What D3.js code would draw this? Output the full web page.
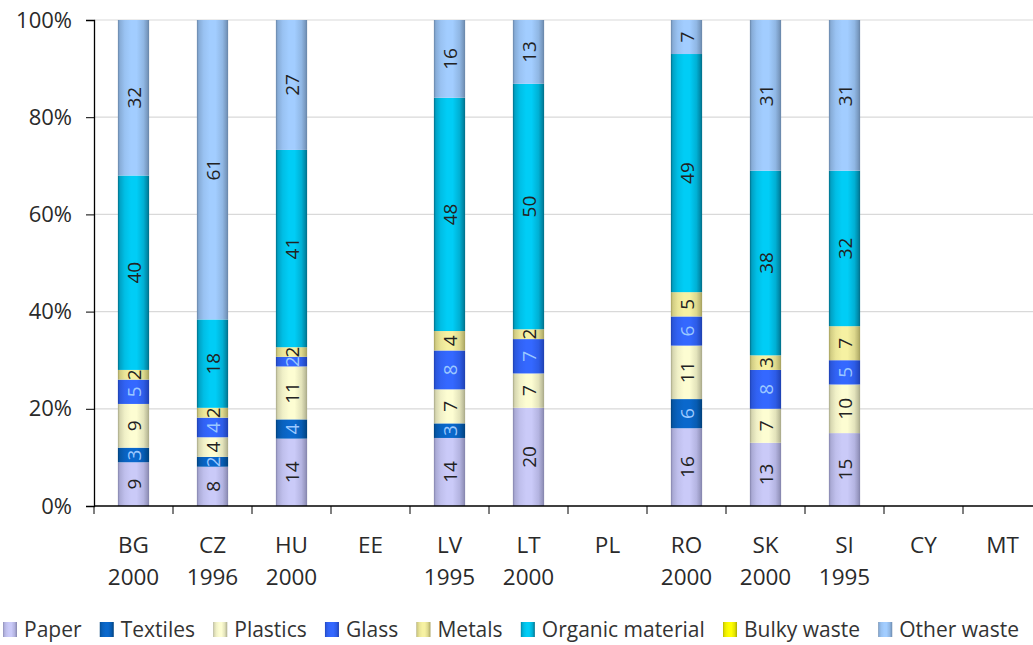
<!DOCTYPE html>
<html>
<head>
<meta charset="utf-8">
<script src="https://cdn.jsdelivr.net/npm/d3@7"></script>
<style>
  html, body { margin: 0; padding: 0; background: #fff; }
  svg { display: block; }
  .tick-y text { font-family: "Open Sans", "Noto Sans", sans-serif; font-size: 22px; fill: #2a2a2a; }
  .cat text { font-family: "Open Sans", "Noto Sans", sans-serif; font-size: 22.5px; fill: #2a2a2a; }
  .val { font-family: "Open Sans", "Noto Sans", sans-serif; font-size: 19px; }
  .legend text { font-family: "Open Sans", "Noto Sans", sans-serif; font-size: 21px; fill: #333; }
</style>
</head>
<body>
<svg id="chart" width="1033" height="645"></svg>
<script>
// Countries and survey years
const countries = ["BG", "CZ", "HU", "EE", "LV", "LT", "PL", "RO", "SK", "SI", "CY", "MT"];
const years     = ["2000", "1996", "2000", "", "1995", "2000", "", "2000", "2000", "1995", "", ""];

// Waste composition (%), one array per fraction, in country order
const paper    = [9, 8, 14, 0, 14, 20, 0, 16, 13, 15, 0, 0];
const textiles = [3, 2, 4, 0, 3, 0, 0, 6, 0, 0, 0, 0];
const plastics = [9, 4, 11, 0, 7, 7, 0, 11, 7, 10, 0, 0];
const glass    = [5, 4, 2, 0, 8, 7, 0, 6, 8, 5, 0, 0];
const metals   = [2, 2, 2, 0, 4, 2, 0, 5, 3, 7, 0, 0];
const organic  = [40, 18, 41, 0, 48, 50, 0, 49, 38, 32, 0, 0];
const bulky    = [0, 0, 0, 0, 0, 0, 0, 0, 0, 0, 0, 0];
const other    = [32, 61, 27, 0, 16, 13, 0, 7, 31, 31, 0, 0];

const fractions = ["Paper", "Textiles", "Plastics", "Glass", "Metals", "Organic material", "Bulky waste", "Other waste"];
const fractionValues = [paper, textiles, plastics, glass, metals, organic, bulky, other];

const yTicks = [0, 0.2, 0.4, 0.6, 0.8, 1];

// Cylinder shading: [edge, centre] colour per fraction
const shades = [
  ["#8282aa", "#cacaf8"],
  ["#003f78", "#0a68cc"],
  ["#a6a686", "#fdfdd2"],
  ["#1d3fae", "#3468ff"],
  ["#a39e5c", "#f6f1a2"],
  ["#006c86", "#00cdf6"],
  ["#a8a800", "#ffff00"],
  ["#6784a6", "#a2cdff"]
];
const labelColours = ["#222", "#9cc8ff", "#222", "#9cc8ff", "#222", "#222", "#222", "#222"];

const rows = countries.map((c, i) => {
  const r = { country: c, year: years[i] };
  fractions.forEach((f, k) => { r[f] = fractionValues[k][i]; });
  return r;
});

const svg = d3.select("#chart");

const x = d3.scaleBand().domain(countries).range([94, 1042]);
const y = d3.scaleLinear().domain([0, 1]).range([506, 20]);
const barW = x.bandwidth() * 0.395;

const stack = d3.stack().keys(fractions).offset(d3.stackOffsetExpand);
const series = stack(rows);

// Gradients
const defs = svg.append("defs");
fractions.forEach((f, k) => {
  const g = defs.append("linearGradient").attr("id", "grad" + k)
    .attr("x1", "0%").attr("x2", "100%").attr("y1", "0%").attr("y2", "0%");
  const [dark, light] = shades[k];
  const mid = d3.interpolateRgb(dark, light);
  [[0, dark], [0.06, mid(0.55)], [0.22, mid(0.85)], [0.42, light], [0.6, light], [0.82, mid(0.7)], [0.94, mid(0.3)], [1, dark]]
    .forEach(([o, c]) => g.append("stop").attr("offset", o).attr("stop-color", c));
});

// Gridlines
svg.append("g").selectAll("line").data(yTicks.filter(t => t > 0)).join("line")
  .attr("x1", 94).attr("x2", 1033)
  .attr("y1", d => y(d)).attr("y2", d => y(d))
  .attr("stroke", "#d9d9d9").attr("stroke-width", 1.2);

// Bars
const layers = svg.append("g").selectAll("g").data(series).join("g")
  .attr("fill", (d, k) => `url(#grad${k})`);
layers.selectAll("rect").data(d => d).join("rect")
  .attr("x", d => x(d.data.country) + (x.bandwidth() - barW) / 2)
  .attr("width", barW)
  .attr("y", d => y(d[1]))
  .attr("height", d => Math.max(0, y(d[0]) - y(d[1])));

// Value labels inside segments
series.forEach((s, k) => {
  svg.append("g").selectAll("text").data(s.filter(d => d.data[s.key] > 0)).join("text")
    .attr("class", "val")
    .attr("fill", labelColours[k])
    .attr("text-anchor", "middle")
    .attr("dominant-baseline", "central")
    .attr("transform", d => `translate(${x(d.data.country) + x.bandwidth() / 2},${(y(d[0]) + y(d[1])) / 2}) rotate(-90)`)
    .text(d => d.data[s.key]);
});

// Y axis
const yAxis = svg.append("g").attr("class", "tick-y")
  .attr("transform", "translate(94,0)")
  .call(d3.axisLeft(y).tickValues(yTicks).tickFormat(d3.format(".0%")).tickSize(8).tickPadding(14));
yAxis.select(".domain").attr("stroke", "#000").attr("stroke-width", 1.3);
yAxis.selectAll(".tick line").attr("stroke", "#000");

// X axis with category boundaries
const xAxis = svg.append("g").attr("class", "cat").attr("transform", "translate(0,506)");
xAxis.append("line").attr("x1", 94).attr("x2", 1033).attr("stroke", "#000").attr("stroke-width", 1.3);
xAxis.selectAll("line.b").data(countries).join("line").attr("class", "b")
  .attr("x1", d => x(d)).attr("x2", d => x(d)).attr("y1", 0).attr("y2", 8)
  .attr("stroke", "#000");
const catLabels = xAxis.selectAll("text").data(rows).join("text")
  .attr("text-anchor", "middle")
  .attr("x", d => x(d.country) + x.bandwidth() / 2);
catLabels.append("tspan").attr("x", d => x(d.country) + x.bandwidth() / 2).attr("y", 47).text(d => d.country);
catLabels.append("tspan").attr("x", d => x(d.country) + x.bandwidth() / 2).attr("y", 79).text(d => d.year);

// Legend
const legend = svg.append("g").attr("class", "legend");
let lx = 3;
const items = [];
fractions.forEach((f, k) => {
  const g = legend.append("g");
  g.append("rect").attr("x", 0).attr("y", 622).attr("width", 14).attr("height", 15).attr("fill", `url(#grad${k})`);
  const t = g.append("text").attr("x", 21).attr("y", 637).text(f);
  items.push({ g, w: 21 + t.node().getComputedTextLength() });
});
const totalW = items.reduce((a, b) => a + b.w, 0);
const gap = (1019 - 3 - totalW) / (items.length - 1);
items.forEach(it => { it.g.attr("transform", `translate(${lx},0)`); lx += it.w + gap; });
</script>
</body>
</html>
